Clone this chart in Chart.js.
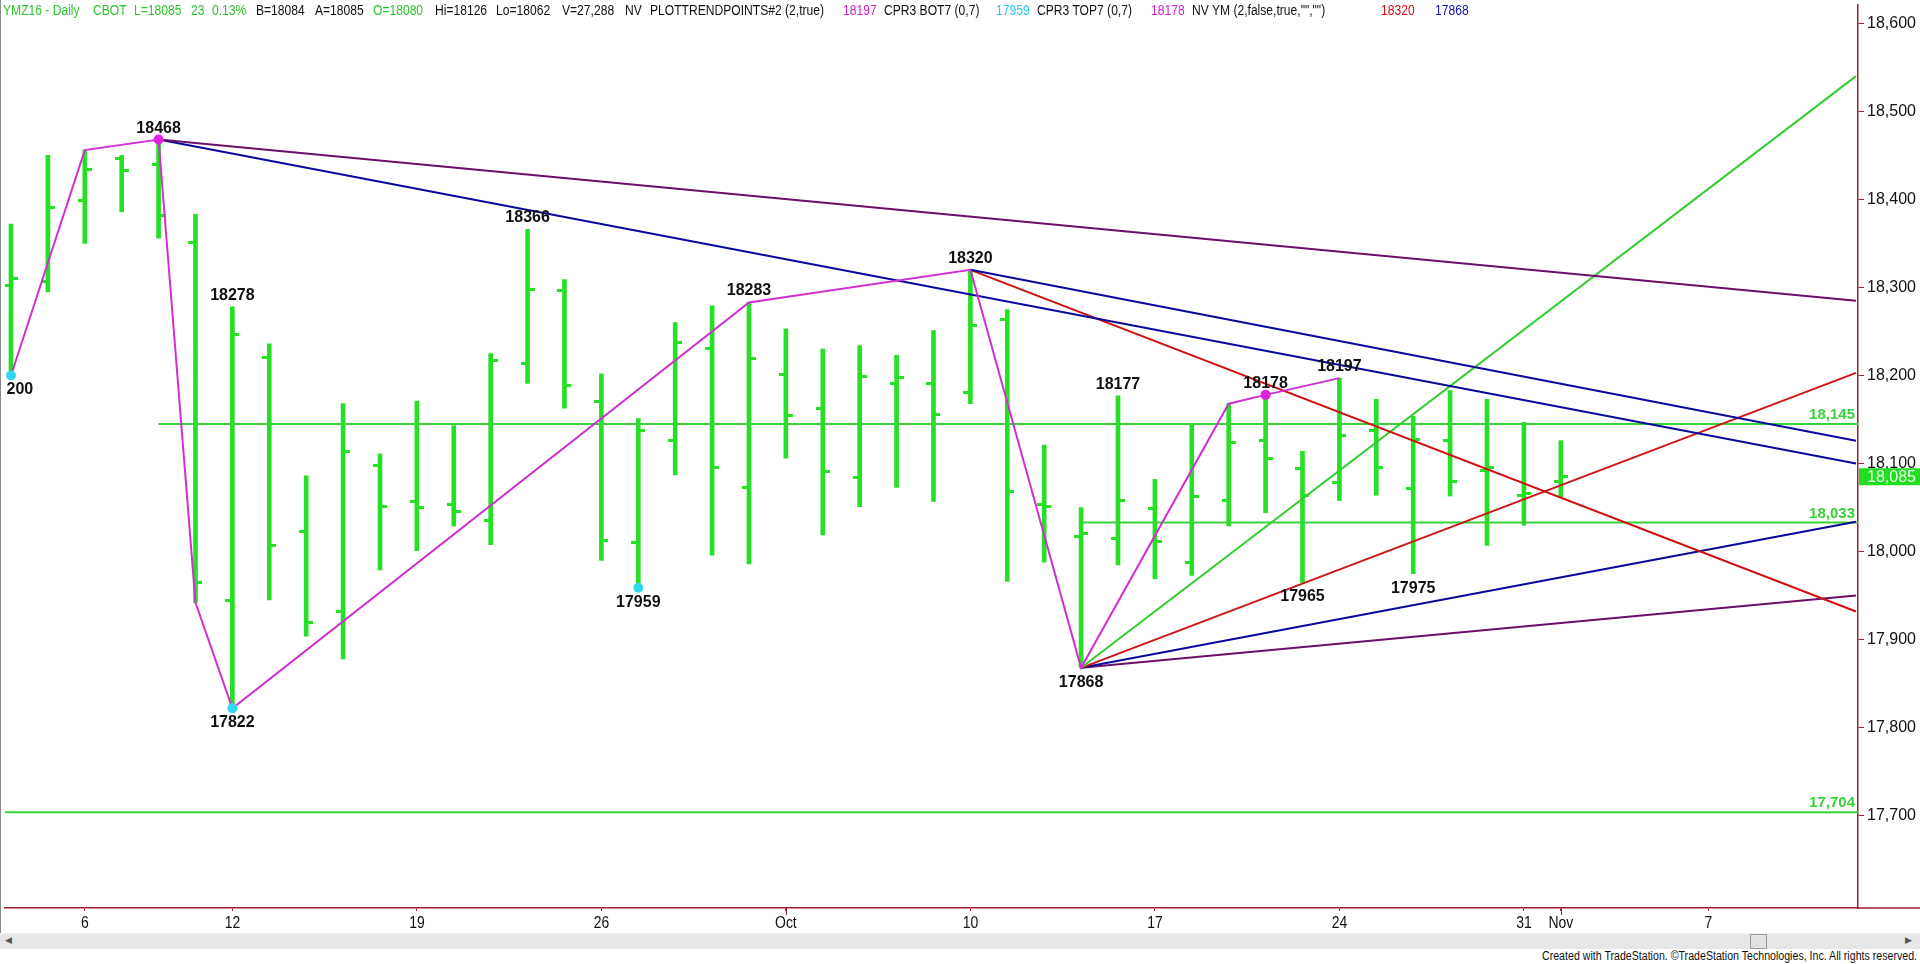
<!DOCTYPE html>
<html>
<head>
<meta charset="utf-8">
<script src="https://cdn.jsdelivr.net/npm/chart.js@4.4.0/dist/chart.umd.min.js"></script>
<style>
  html, body { margin: 0; padding: 0; background: #fff; overflow: hidden; }
  #wrap { position: relative; width: 1920px; height: 964px; }
  #chartBox { position: absolute; left: 0; top: 0; width: 1920px; height: 930px; }
  #header span, #footer { position: absolute; white-space: pre; font-size: 14px; line-height: 16px; transform-origin: 0 0; }
  #leftEdge { position: absolute; left: 0; top: 0; width: 1px; height: 948px; background: #8a8a8a; }
  #scroll { position: absolute; left: 0; top: 933px; width: 1920px; height: 15px; background: #e7e7e7; border-top: 1px solid #f4f4f4; }
  #thumb { position: absolute; left: 1750px; top: 0; width: 15px; height: 13px; background: #e2e2e2; border: 1px solid #9a9a9a; }
  .arr { position: absolute; top: 1px; font: 9px "Liberation Sans", Arial; color: #555; }
  #footer { font-size: 12px; line-height: 14px; top: 949px; color: #111; }
</style>
</head>
<body>
<div id="wrap">
  <div id="chartBox"><canvas id="chart"></canvas></div>
  <div id="header"></div>
  <div id="leftEdge"></div>
  <div id="scroll"><span class="arr" style="left:5px">&#9664;</span><div id="thumb"></div><span class="arr" style="left:1905px">&#9654;</span></div>
  <div id="footer">Created with TradeStation. ©TradeStation Technologies, Inc. All rights reserved.</div>
</div>
<script>
// daily bars Sep 1 .. Nov 1 2016, index 0 = Sep 1
const opens  = [18302,18307,18399,18447,18440,18351,17944,18220,18023,17932,18098,18057,18054,18035,18214,18296,18171,18010,18126,18231,18073,18201,18163,18084,18191,18191,18181,18264,18054,18017,18015,18049,17988,18058,18126,18094,18078,18137,18072,18126,18092,18064,18080];
const highs  = [18372,18450,18456,18450,18468,18383,18278,18236,18086,18168,18111,18171,18143,18225,18366,18309,18202,18151,18260,18279,18283,18253,18230,18234,18223,18251,18320,18275,18121,18050,18177,18082,18144,18168,18178,18114,18197,18173,18154,18183,18173,18147,18126];
const lows   = [18200,18295,18350,18386,18356,17942,17822,17945,17904,17878,17979,18001,18029,18008,18191,18163,17990,17959,18087,17996,17986,18106,18019,18051,18073,18057,18168,17966,17988,17868,17985,17969,17973,18029,18044,17965,18058,18064,17975,18063,18007,18030,18062];
const closes = [18310,18391,18434,18433,18382,17965,18246,18007,17919,18114,18051,18050,18045,18217,18298,18189,18013,18138,18237,18095,18219,18155,18091,18199,18198,18156,18257,18068,18051,18020,18058,18012,18063,18124,18106,18064,18132,18095,18127,18080,18096,18066,18085];

const tickIdx  = [2, 6, 11, 16, 21, 26, 31, 36, 41, 42, 46];
const tickText = ['6', '12', '19', '26', 'Oct', '10', '17', '24', '31', 'Nov', '7'];
const monthIdx = [21, 42];
const yTicks = [17700, 17800, 17900, 18000, 18100, 18200, 18300, 18400, 18500, 18600];

// swing points and their labels
const pivotIdx = [0, 4, 6, 14, 17, 20, 26, 29, 30, 34, 35, 36, 38, 6];
const pivotVal = [18200, 18468, 17822, 18366, 17959, 18283, 18320, 17868, 18177, 18178, 17965, 18197, 17975, 18278];
const pivotUp  = [false, true, false, true, false, true, true, false, true, true, false, true, false, true];

const zigIdx = [0, 2, 4, 5, 6, 20, 26, 29, 33, 34, 36];
const zigVal = [18200, 18456, 18468, 17942, 17822, 18283, 18320, 17868, 18168, 18178, 18197];

const dotIdx = [0, 4, 6, 17, 34];
const dotVal = [18200, 18468, 17822, 17959, 18178];

// trend lines: start index/value, end index/value
const trendFromIdx = [4, 4, 26, 26, 29, 29, 29, 29];
const trendFromVal = [18468, 18468, 18320, 18320, 17868, 17868, 17868, 17868];
const trendToIdx   = [50, 50, 50, 50, 50, 50, 50, 50];
const trendToVal   = [18285, 18100, 18126, 17932, 18540, 18203, 18034, 17950];

const levelVal  = [18145, 18033, 17704];
const levelFrom = [4, 29, -1];
const lastPrice = 18085;

// styles
const GREEN = '#26e026', LEVEL = '#3ad23a', AXIS = '#9e1f2e';
const trendColor = ['#6a1068', '#0a0a9a', '#0a0a9a', '#d01010', '#33cc33', '#cc1515', '#0a0a9a', '#6a1068'];
const dotColor = ['#33d8f0', '#e020e0', '#33d8f0', '#33d8f0', '#e020e0'];

function hasFont(name) {
  const g = document.createElement('canvas').getContext('2d');
  g.font = '20px monospace';
  const a = g.measureText('abcdefghiWWW12345').width;
  g.font = '20px "' + name + '", monospace';
  return g.measureText('abcdefghiWWW12345').width !== a;
}
const narrow = hasFont('Liberation Sans Narrow');
const SANS = '"Liberation Sans", Arial, sans-serif';
const NARROW = narrow ? '"Liberation Sans Narrow", "Liberation Sans", Arial' : SANS;
const squeeze = narrow ? 1 : 0.82;   // fake a condensed face when there is none

// header
const K = '#111', G = '#2cc42c', M = '#cc22cc', C = '#22ccee', R = '#d01010', B = '#1010b0';
const hdr = [
  ['YMZ16 - Daily', 3, G], ['CBOT', 93, G], ['L=18085', 134, G], ['23', 191, G], ['0.13%', 212, G],
  ['B=18084', 256, K], ['A=18085', 315, K], ['O=18080', 373, G], ['Hi=18126', 435, K], ['Lo=18062', 496, K],
  ['V=27,288', 562, K], ['NV', 625, K], ['PLOTTRENDPOINTS#2 (2,true)', 650, K], ['18197', 843, M],
  ['CPR3 BOT7 (0,7)', 884, K], ['17959', 996, C], ['CPR3 TOP7 (0,7)', 1037, K], ['18178', 1151, M],
  ['NV YM (2,false,true,"","")', 1192, K], ['18320', 1381, R], ['17868', 1435, B]
];
const meas = document.createElement('canvas').getContext('2d');
meas.font = '14px ' + NARROW;
const hk = 174 / meas.measureText('PLOTTRENDPOINTS#2 (2,true)').width;
const header = document.getElementById('header');
hdr.forEach(h => {
  const s = document.createElement('span');
  s.textContent = h[0];
  s.style.left = h[1] + 'px';
  s.style.top = '2px';
  s.style.color = h[2];
  s.style.fontFamily = NARROW;
  s.style.transform = 'scaleX(' + hk + ')';
  header.appendChild(s);
});
const footer = document.getElementById('footer');
footer.style.fontFamily = NARROW;
meas.font = '12px ' + NARROW;
const fw = meas.measureText(footer.textContent).width;
const fk = 376 / fw;
footer.style.left = (1918 - fw * fk) + 'px';
footer.style.transform = 'scaleX(' + fk + ')';

function tickImg(left) {
  const c = document.createElement('canvas');
  c.width = 14; c.height = 3;
  const g = c.getContext('2d');
  g.fillStyle = GREEN;
  if (left) g.fillRect(0, 0, 7, 3); else g.fillRect(7, 0, 7, 3);
  return c;
}

const datasets = [];
dotIdx.forEach((x, i) => datasets.push({
  type: 'line', data: [{ x: x, y: dotVal[i] }], showLine: false,
  pointRadius: 5, pointBackgroundColor: dotColor[i], pointBorderWidth: 0, order: 1
}));
datasets.push({
  type: 'line', data: zigIdx.map((x, i) => ({ x: x, y: zigVal[i] })),
  borderColor: '#d030d0', borderWidth: 2, pointRadius: 0, tension: 0, order: 2
});
trendFromIdx.forEach((x, i) => datasets.push({
  type: 'line', data: [{ x: x, y: trendFromVal[i] }, { x: trendToIdx[i], y: trendToVal[i] }],
  borderColor: trendColor[i], borderWidth: 2, pointRadius: 0, order: 3
}));
levelVal.forEach((v, i) => datasets.push({
  type: 'line', data: [{ x: levelFrom[i], y: v }, { x: 51, y: v }],
  borderColor: LEVEL, borderWidth: 2, pointRadius: 0, order: 4
}));
datasets.push({
  type: 'line', data: opens.map((v, i) => ({ x: i, y: v })), showLine: false,
  pointStyle: tickImg(true), pointRadius: 3, order: 5
});
datasets.push({
  type: 'line', data: closes.map((v, i) => ({ x: i, y: v })), showLine: false,
  pointStyle: tickImg(false), pointRadius: 3, order: 5
});
datasets.push({
  type: 'bar', data: highs.map((h, i) => ({ x: i, y: [lows[i], h] })),
  backgroundColor: GREEN, borderWidth: 0, barThickness: 4, order: 6
});

const extras = {
  id: 'extras',
  afterDatasetsDraw(chart) {
    const ctx = chart.ctx, a = chart.chartArea;
    const xs = chart.scales.x, ys = chart.scales.y;
    ctx.save();
    ctx.beginPath();
    ctx.rect(a.left + 2, a.top, a.right - a.left - 2, a.bottom - a.top);
    ctx.clip();
    ctx.font = 'bold 16px ' + SANS;
    ctx.fillStyle = '#111';
    ctx.textAlign = 'center';
    ctx.textBaseline = 'alphabetic';
    pivotIdx.forEach((x, i) => {
      const px = xs.getPixelForValue(x), py = ys.getPixelForValue(pivotVal[i]);
      ctx.fillText(String(pivotVal[i]), px, pivotUp[i] ? py - 7 : py + 19);
    });
    ctx.font = 'bold 15px ' + SANS;
    ctx.fillStyle = LEVEL;
    ctx.textAlign = 'right';
    levelVal.forEach(v => {
      ctx.fillText(v.toLocaleString('en-US'), a.right - 3, ys.getPixelForValue(v) - 5);
    });
    ctx.restore();
  },
  afterDraw(chart) {
    const ctx = chart.ctx, a = chart.chartArea;
    const xs = chart.scales.x, ys = chart.scales.y;
    ctx.save();
    ctx.strokeStyle = AXIS;
    ctx.lineWidth = 1.5;
    ctx.beginPath();
    ctx.moveTo(a.right, a.bottom);
    ctx.lineTo(1920, a.bottom);
    ctx.stroke();
    ctx.lineWidth = 1;
    monthIdx.forEach(m => {
      const px = Math.round(xs.getPixelForValue(m)) + 0.5;
      ctx.beginPath();
      ctx.moveTo(px, a.bottom);
      ctx.lineTo(px, a.bottom + 7);
      ctx.stroke();
    });
    // date labels on the x scale ticks, condensed like the source face
    ctx.fillStyle = '#111';
    ctx.font = '17px ' + NARROW;
    ctx.textAlign = 'center';
    ctx.textBaseline = 'middle';
    xs.ticks.forEach(t => {
      const k = tickIdx.indexOf(t.value);
      if (k < 0) return;
      ctx.save();
      ctx.translate(xs.getPixelForValue(t.value), a.bottom + 15);
      ctx.scale(squeeze, 1);
      ctx.fillText(tickText[k], 0, 0);
      ctx.restore();
    });
    const py = ys.getPixelForValue(lastPrice);
    ctx.fillStyle = '#22dd22';
    ctx.fillRect(a.right + 1, py - 8.5, 1920 - a.right, 17);
    ctx.fillStyle = '#e4ffe4';
    ctx.font = '16px ' + SANS;
    ctx.textAlign = 'left';
    ctx.textBaseline = 'middle';
    ctx.fillText(lastPrice.toLocaleString('en-US'), a.right + 9, py + 1);
    ctx.restore();
  }
};

new Chart(document.getElementById('chart'), {
  type: 'line',
  data: { datasets: datasets },
  options: {
    responsive: true,
    maintainAspectRatio: false,
    animation: false,
    events: [],
    layout: { padding: 0 },
    plugins: { legend: { display: false }, tooltip: { enabled: false } },
    scales: {
      x: {
        type: 'linear', min: -0.162, max: 50.054, offset: false,
        grid: { drawOnChartArea: false, tickLength: 3, color: AXIS, offset: false },
        border: { color: AXIS, width: 1.5 },
        ticks: { display: false, autoSkip: false, maxRotation: 0 },
        afterBuildTicks: s => { s.ticks = tickIdx.map(v => ({ value: v })); },
        afterFit: s => { s.height = 22; s.paddingLeft = 0; s.paddingRight = 0; }
      },
      y: {
        type: 'linear', position: 'right', min: 17595.2, max: 18620.8,
        grid: { drawOnChartArea: false, tickLength: 6, color: AXIS },
        border: { color: AXIS, width: 1.5 },
        ticks: {
          padding: 3, color: '#111', font: { family: SANS, size: 16 },
          callback: v => v.toLocaleString('en-US')
        },
        afterBuildTicks: s => { s.ticks = yTicks.map(v => ({ value: v })); },
        afterFit: s => { s.width = 62; s.paddingTop = 0; s.paddingBottom = 0; }
      }
    }
  },
  plugins: [extras]
});
</script>
</body>
</html>
